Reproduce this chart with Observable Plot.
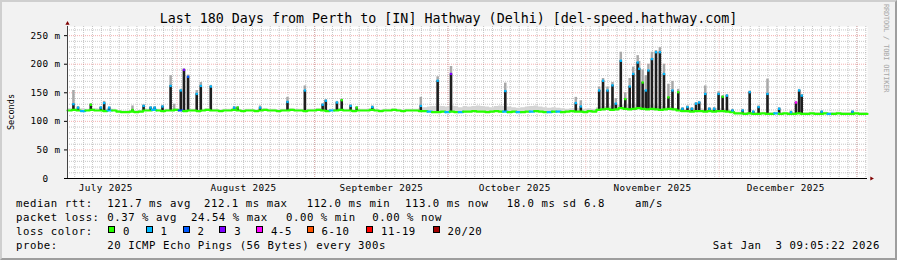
<!DOCTYPE html>
<html><head><meta charset="utf-8">
<script src="https://cdn.jsdelivr.net/npm/d3@7"></script>
<script src="https://cdn.jsdelivr.net/npm/@observablehq/plot@0.6"></script>
<style>
html,body{margin:0;padding:0;background:#fff;}
#chart{position:relative;width:897px;height:260px;background:#f2f2f2;overflow:hidden;font-family:"DejaVu Sans Mono",monospace;color:#000;}
#chart svg{position:absolute;left:0;top:0;}
#chart svg text{letter-spacing:0.38px;}
.t{position:absolute;white-space:pre;font-size:10.67px;letter-spacing:0.55px;line-height:12px;}
.box{position:absolute;width:7px;height:7px;border:1px solid #000;box-sizing:border-box;}
#title{position:absolute;left:0;width:897px;top:11.4px;text-align:center;font-size:13.33px;line-height:16px;white-space:pre;}
#ylab{position:absolute;font-size:8.6px;line-height:10px;white-space:pre;transform-origin:center;}
#brand{position:absolute;left:882px;top:4px;font-size:7px;letter-spacing:-0.2px;color:#a8a8a8;writing-mode:vertical-rl;white-space:pre;}
#border{position:absolute;left:0;top:0;width:897px;height:260px;box-sizing:border-box;border-top:2px solid #cfcfcf;border-left:2px solid #cfcfcf;border-bottom:2px solid #9e9e9e;border-right:2px solid #9e9e9e;pointer-events:none;}
</style></head><body><div id="chart"></div><script>
// ---------- data ----------
const titleText = "Last 180 Days from Perth to [IN] Hathway (Delhi) [del-speed.hathway.com]";
const yLabel = "Seconds";
const startTime = "2025-07-07 09:05";
const endTime = "2026-01-03 09:05";
const yTicks = [0, 50, 100, 150, 200, 250];

// daily median rtt (ms), one per day from startTime
const medianMs = [
119,120,119,118,119,120,119,119,118,119,
119,117,116,116,117,116,117,119,119,120,
119,118,119,119,120,119,118,119,119,118,
119,120,119,119,118,119,119,120,119,118,
119,119,118,119,120,119,119,118,119,119,
120,119,119,118,119,119,120,119,118,119,
119,120,119,119,118,119,119,119,120,119,
118,119,119,120,119,118,119,119,119,118,
118,117,116,116,117,116,117,116,116,117,
117,118,117,117,116,117,118,117,117,116,
117,116,116,117,117,118,117,116,116,117,
117,116,117,118,117,117,116,118,117,120,
121,122,120,121,123,122,121,122,123,122,
121,122,121,120,121,122,121,119,118,118,
117,118,118,117,118,117,118,118,117,116,
114,114,113,114,113,113,114,113,113,114,
113,114,113,113,114,113,113,114,113,113,
114,113,113,114,113,113,113,114,113,113];

// daily upper edge of the smoke (ms)
const smokeHi = [
122,121,121,122,121,121,122,121,121,122,
121,119,118,118,119,118,119,121,121,122,
121,120,121,121,122,121,120,121,121,120,
121,122,121,121,120,121,121,122,121,120,
121,121,120,121,122,121,121,120,121,121,
122,121,121,120,121,121,122,121,120,121,
121,122,121,121,120,121,121,121,122,121,
120,121,121,122,121,120,121,121,121,122,
124,125,126,127,126,125,127,126,124,126,
125,126,127,126,125,124,126,127,126,125,
124,123,124,125,126,127,125,124,123,124,
123,122,121,122,123,122,121,122,121,124,
125,126,127,128,128,128,129,130,130,130,
129,128,127,126,125,124,123,122,121,120,
123,122,122,121,122,121,122,122,121,119,
116,116,115,116,115,115,116,115,115,116,
115,116,115,115,116,115,115,116,115,115,
116,115,115,116,115,115,115,116,115,115];

// days (index) whose median carries packet loss, and the loss class
const lossDayIndex = [3,9,19,25,59,81,85,88,98,101,104,108,110,159,171];
const lossDayLevel = [1,1,1,2,1,1,1,1,1,1,1,1,1,1,1];

// latency spikes: time, median top (ms), smoke top (ms), loss class
const spikeTimes = ["2025-07-08 17","2025-07-09 18","2025-07-12 15","2025-07-14 21","2025-07-15 15","2025-07-16 18","2025-07-22 00","2025-07-24 12","2025-07-26 02","2025-07-27 00","2025-07-28 18","2025-07-30 14","2025-07-31 09","2025-08-01 21","2025-08-02 14","2025-08-03 12","2025-08-05 11","2025-08-06 09","2025-08-08 15","2025-08-13 21","2025-08-14 16","2025-08-19 17","2025-08-25 21","2025-08-29 19","2025-09-02 19","2025-09-03 12","2025-09-06 00","2025-09-07 02","2025-09-09 02","2025-09-10 11","2025-09-13 23","2025-09-24 21","2025-09-28 16","2025-10-01 16","2025-10-13 21","2025-10-29 18","2025-10-30 21","2025-11-04 00","2025-11-04 21","2025-11-05 21","2025-11-07 00","2025-11-07 18","2025-11-08 21","2025-11-09 21","2025-11-10 21","2025-11-11 16","2025-11-12 16","2025-11-13 00","2025-11-13 19","2025-11-14 12","2025-11-15 02","2025-11-15 21","2025-11-16 19","2025-11-17 16","2025-11-18 14","2025-11-19 14","2025-11-20 12","2025-11-21 19","2025-11-22 18","2025-11-23 21","2025-11-24 21","2025-11-25 19","2025-11-26 12","2025-11-27 21","2025-11-28 19","2025-11-29 21","2025-11-30 21","2025-12-01 19","2025-12-02 18","2025-12-04 00","2025-12-06 07","2025-12-07 21","2025-12-08 16","2025-12-09 21","2025-12-11 21","2025-12-14 12","2025-12-17 04","2025-12-18 07","2025-12-19 00","2025-12-19 14","2025-12-24 02","2025-12-31 00"];
const spikeTop =   [130,124,129,124,132,124,120,127,124,124,126,162,120,154,190,178,148,162,161,124,124,124,134,154,129,136,133,137,127,124,125,127,171,183,153,132,126,154,171,154,163,131,206,139,161,183,203,192,168,154,189,209,221,221,183,142,154,151,122,125,122,131,133,148,122,122,148,143,145,119,119,151,117,125,148,122,116,133,154,145,117,117];
const spikeSmoke = [154,126,131,126,135,125,127,129,126,126,128,180,130,156,192,181,154,168,163,126,126,127,142,162,131,138,135,139,129,126,127,142,178,196,167,142,136,160,175,160,168,140,221,150,175,195,215,205,190,180,200,221,224,229,200,165,170,156,124,127,124,133,135,162,124,124,152,145,147,121,121,153,118,127,174,124,118,135,156,147,118,118];
const spikeLoss =  [1,1,0,1,1,1,0,1,1,1,1,1,0,1,3,2,1,1,1,1,0,1,1,1,1,1,1,0,1,0,1,1,1,3,1,1,1,1,1,1,1,1,1,0,1,1,1,1,0,1,1,1,1,1,1,0,1,0,1,1,1,1,1,1,1,1,1,0,1,1,1,1,1,1,1,1,1,4,1,1,1,1];

// legend
const rttLabel = "median rtt:";
const rttStats = ["121.7 ms avg","212.1 ms max","112.0 ms min","113.0 ms now","18.0 ms sd","6.8","am/s"];
const lossLabel = "packet loss:";
const lossStats = ["0.37 % avg","24.54 % max","0.00 % min","0.00 % now"];
const lossColorLabel = "loss color:";
const lossNames = ["0","1","2","3","4-5","6-10","11-19","20/20"];
const lossColors = ["#26ff00","#00b8ff","#0059ff","#7e00ff","#ff00ff","#ff5500","#ff0000","#a10000"];
const probeLabel = "probe:";
const probeText = "20 ICMP Echo Pings (56 Bytes) every 300s";
const stampText = "Sat Jan  3 09:05:22 2026";
const brandText = "RRDTOOL / TOBI OETIKER";

// ---------- build ----------
const parseT = d3.utcParse("%Y-%m-%d %H:%M");
const parseH = d3.utcParse("%Y-%m-%d %H");
const t0 = parseT(startTime), t1 = parseT(endTime);
const DAY = 864e5;
const lossByDay = new Map(lossDayIndex.map((d, i) => [d, lossDayLevel[i]]));
const days = medianMs.map((m, i) => ({t: new Date(+t0 + i * DAY), m, hi: smokeHi[i], loss: lossByDay.get(i) || 0}));
days.push({...days[days.length - 1], t: t1});
const spikes = spikeTimes.map((s, i) => {
  const t = parseH(s);
  const di = Math.max(0, Math.min(medianMs.length - 1, Math.floor((t - t0) / DAY)));
  return {t, top: spikeTop[i], smoke: spikeSmoke[i], loss: spikeLoss[i], base: medianMs[di]};
});

const yMax = 266;
const minorY = d3.range(10, yMax, 10).filter(v => v % 50 !== 0);
const majorY = yTicks.filter(v => v > 0);
const minorX = d3.utcDay.range(t0, t1).filter(d => Math.floor(+d / DAY) % 2 === 0);
const monthStarts = d3.utcMonth.range(t0, t1);
const labelDates = d3.utcMonth.range(d3.utcMonth.floor(t0), t1).map(m => d3.utcDay.offset(m, 15)).filter(d => d >= t0 && d <= t1);
const fmtMonth = d3.utcFormat("%B %Y");

const gridMinor = {stroke: "#8f8f8f", strokeOpacity: 0.5, strokeDasharray: "1,1"};
const gridMajorY = {stroke: "#e03030", strokeOpacity: 0.38, strokeDasharray: "1,1"};
const gridMajorX = {stroke: "#e03030", strokeOpacity: 0.28, strokeDasharray: "1,1"};

const plot = Plot.plot({
  width: 897, height: 260,
  marginLeft: 67, marginRight: 30, marginTop: 26, marginBottom: 82,
  style: {background: "transparent", fontFamily: "'DejaVu Sans Mono', monospace", fontSize: "9.33px", color: "#000"},
  x: {type: "utc", domain: [t0, t1]},
  y: {domain: [0, yMax]},
  marks: [
    Plot.frame({fill: "#fff", stroke: null}),
    Plot.ruleY(minorY, gridMinor),
    Plot.ruleX(minorX, gridMinor),
    Plot.ruleY(majorY, gridMajorY),
    Plot.ruleX(monthStarts, gridMajorX),
    Plot.areaY(days, {x: "t", y1: "m", y2: "hi", fill: "#d4d4d4", curve: "step-after"}),
    Plot.ruleX(spikes, {x: "t", y1: "base", y2: "smoke", stroke: "#a8a8a8", strokeWidth: 2.5}),
    Plot.ruleX(spikes, {x: "t", y1: "base", y2: "top", stroke: "#1e1e1e", strokeWidth: 2.5}),
    Plot.line(days, {x: "t", y: "m", z: null, stroke: d => lossColors[d.loss], strokeWidth: 2.2, curve: "step-after"}),
    Plot.dot(spikes, {x: "t", y: "top", symbol: "square", r: 1.3, fill: d => lossColors[d.loss], stroke: null}),
    Plot.axisY({ticks: yTicks, tickSize: 3, tickPadding: 4, label: null, tickFormat: v => v === 0 ? "0\u00a0\u00a0" : `${v} m`}),
    Plot.axisX({ticks: labelDates, tickSize: 0, tickPadding: 6, label: null, tickFormat: d => fmtMonth(d3.utcMonth.floor(d))}),
    Plot.ruleX([t0], {stroke: "#444"}),
    Plot.ruleY([0], {stroke: "#000"}),
    Plot.dot([t0], {x: d => d, y: () => yMax, symbol: "triangle2", r: 2, fill: "#800000", stroke: null, dy: -3}),
    Plot.dot([t1], {x: d => d, y: () => 0, symbol: "triangle2", r: 2, fill: "#800000", stroke: null, rotate: 90, dx: 4})
  ]
});

const chart = document.getElementById("chart");
chart.appendChild(plot);

function addText(txt, left, baseline, cls = "t") {
  const s = document.createElement("div");
  s.className = cls;
  s.textContent = txt;
  s.style.left = left + "px";
  s.style.top = (baseline - 9.7) + "px";
  chart.appendChild(s);
  return s;
}
const title = document.createElement("div");
title.id = "title"; title.textContent = titleText; chart.appendChild(title);

const yl = document.createElement("div");
yl.id = "ylab"; yl.textContent = yLabel; chart.appendChild(yl);
const w = yl.getBoundingClientRect().width;
yl.style.left = (11 - w / 2) + "px"; yl.style.top = (112 - 5) + "px";
yl.style.transform = "rotate(-90deg)";

const brand = document.createElement("div");
brand.id = "brand"; brand.textContent = brandText; chart.appendChild(brand);

// row 1
addText(rttLabel, 16, 208);
[107.3, 204, 306.7, 405, 506.7, 584, 635].forEach((x, i) => addText(rttStats[i], x, 208));
// row 2
addText(lossLabel, 16, 222);
[107.3, 191, 286, 372.3].forEach((x, i) => addText(lossStats[i], x, 222));
// row 3
addText(lossColorLabel, 16, 236);
const boxX = [108, 145.5, 182.5, 219.3, 256, 306.5, 366, 432.5];
boxX.forEach((x, i) => {
  const b = document.createElement("div");
  b.className = "box";
  b.style.left = x + "px"; b.style.top = "226px"; b.style.background = lossColors[i];
  chart.appendChild(b);
  addText(lossNames[i], x + 15, 236);
});
// row 4
addText(probeLabel, 16, 250);
addText(probeText, 107.3, 250);
const st = addText(stampText, 0, 250);
st.style.left = (880 - st.getBoundingClientRect().width) + "px";

const border = document.createElement("div");
border.id = "border"; chart.appendChild(border);
</script></body></html>
